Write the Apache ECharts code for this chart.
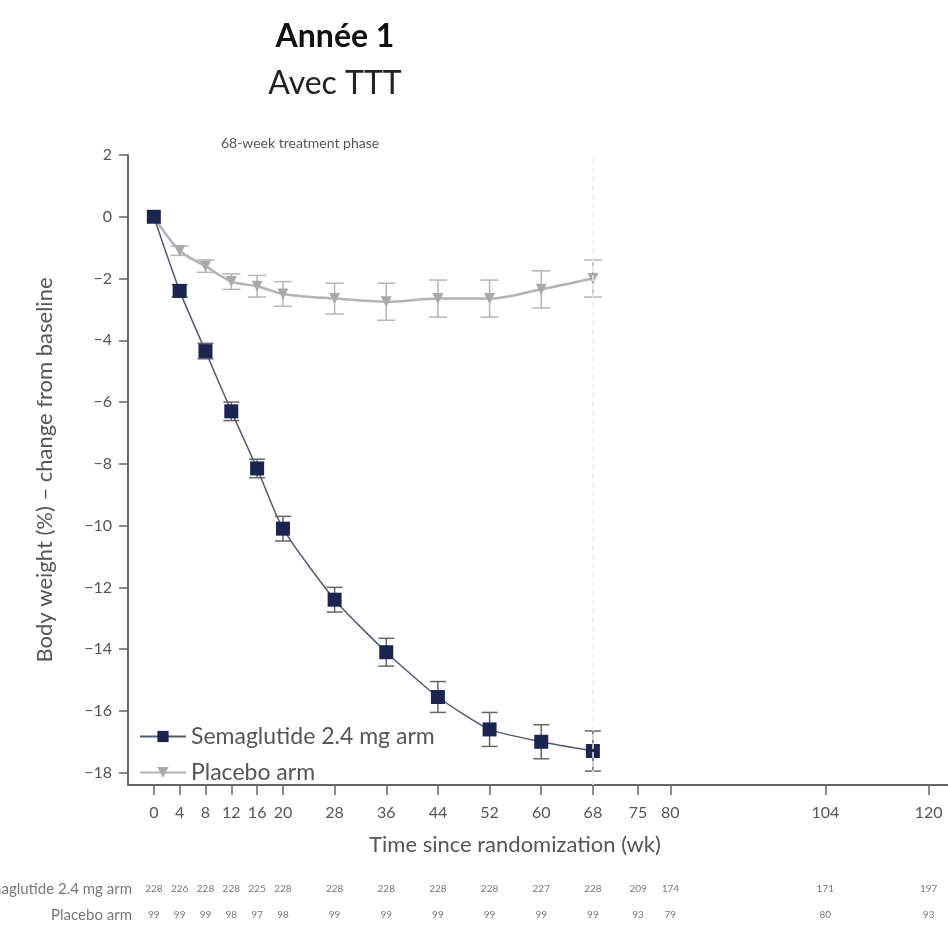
<!DOCTYPE html>
<html>
<head>
<meta charset="utf-8">
<script src="https://cdn.jsdelivr.net/npm/echarts@6/dist/echarts.min.js"></script>
<style>
  html, body { margin: 0; padding: 0; background: #fff; }
  #chart { width: 948px; height: 931px; }
</style>
</head>
<body>
<div id="chart"></div>
<script>
// weeks with measured points
const weeks = [0, 4, 8, 12, 16, 20, 28, 36, 44, 52, 60, 68];
const semaMean = [0, -2.4, -4.35, -6.3, -8.15, -10.1, -12.4, -14.1, -15.55, -16.6, -17.0, -17.3];
const semaErr = [0, 0.2, 0.25, 0.3, 0.3, 0.4, 0.4, 0.45, 0.5, 0.55, 0.55, 0.65];
const placeboMean = [0, -1.1, -1.6, -2.1, -2.25, -2.5, -2.65, -2.75, -2.65, -2.65, -2.35, -2.0];
const placeboErr = [0, 0.15, 0.2, 0.25, 0.35, 0.4, 0.5, 0.6, 0.6, 0.6, 0.6, 0.6];

// axis ticks
const xTicks = [0, 4, 8, 12, 16, 20, 28, 36, 44, 52, 60, 68, 75, 80, 104, 120];
const yTicks = [2, 0, -2, -4, -6, -8, -10, -12, -14, -16, -18];

// numbers at risk (same weeks as xTicks)
const atRiskSema = [228, 226, 228, 228, 225, 228, 228, 228, 228, 228, 227, 228, 209, 174, 171, 197];
const atRiskPlacebo = [99, 99, 99, 98, 97, 98, 99, 99, 99, 99, 99, 99, 93, 79, 80, 93];

const FONT = 'Lato';
const semaColor = '#1c2550';
const placeboColor = '#a9a9a9';

function pairs(ys) { return weeks.map((w, i) => [w, ys[i]]); }
function bars(ys, err) {
  return weeks.map((w, i) => [w, ys[i] - err[i], ys[i] + err[i]]).filter((d, i) => err[i] > 0);
}
function errorBars(color, capW) {
  return function (params, api) {
    const x = api.value(0);
    const lo = api.coord([x, api.value(1)]);
    const hi = api.coord([x, api.value(2)]);
    const style = { stroke: color, lineWidth: 1.5 };
    return {
      type: 'group',
      children: [
        { type: 'line', shape: { x1: lo[0], y1: lo[1], x2: hi[0], y2: hi[1] }, style: style },
        { type: 'line', shape: { x1: lo[0] - capW, y1: lo[1], x2: lo[0] + capW, y2: lo[1] }, style: style },
        { type: 'line', shape: { x1: hi[0] - capW, y1: hi[1], x2: hi[0] + capW, y2: hi[1] }, style: style }
      ]
    };
  };
}
function countAxis(gridIndex, counts) {
  return {
    type: 'value', gridIndex: gridIndex, min: -4, max: 123,
    axisLine: { show: false }, axisTick: { show: false }, splitLine: { show: false },
    axisLabel: {
      customValues: xTicks, margin: 3, fontSize: 10, color: '#777', fontFamily: FONT,
      formatter: v => String(counts[xTicks.indexOf(v)])
    }
  };
}

let chart = echarts.init(document.getElementById('chart'));
let option = {
  backgroundColor: '#fff',
  animation: false,
  textStyle: { fontFamily: FONT },
  title: [
    { text: 'Année 1', left: 330, top: 16, textAlign: 'center',
      textStyle: { fontSize: 32, fontWeight: 'bold', color: '#111', fontFamily: FONT } },
    { text: 'Avec TTT', left: 330, top: 63, textAlign: 'center',
      textStyle: { fontSize: 32, fontWeight: 'normal', color: '#222', fontFamily: FONT } },
    { text: '68-week treatment phase', left: 295, top: 131, textAlign: 'center',
      textStyle: { fontSize: 14, fontWeight: 'normal', color: '#555', fontFamily: FONT } }
  ],
  legend: {
    data: ['Semaglutide 2.4 mg arm', 'Placebo arm'],
    orient: 'vertical', left: 134, top: 720, itemGap: 13,
    itemWidth: 46, itemHeight: 14,
    textStyle: { fontSize: 23, color: '#555', fontFamily: FONT }
  },
  grid: [
    { left: 128, right: 0, top: 155, bottom: 146 },
    { left: 128, right: 0, top: 880, height: 1 },
    { left: 128, right: 0, top: 906, height: 1 }
  ],
  xAxis: [
    {
      type: 'value', min: -4, max: 123,
      name: 'Time since randomization (wk)', nameLocation: 'middle', nameGap: 49,
      nameTextStyle: { fontSize: 22, color: '#555', padding: [0, 46, 0, 0], fontFamily: FONT },
      axisLine: { onZero: false, lineStyle: { color: '#666', width: 2 } },
      axisTick: { customValues: xTicks, length: 10, lineStyle: { color: '#666', width: 1.5 } },
      axisLabel: { customValues: xTicks, margin: 20, fontSize: 16, color: '#555', fontFamily: FONT },
      splitLine: { show: false }
    },
    countAxis(1, atRiskSema),
    countAxis(2, atRiskPlacebo)
  ],
  yAxis: [
    {
      type: 'value', min: -18.4, max: 2,
      name: 'Body weight (%) \u2013 change from baseline', nameLocation: 'middle', nameGap: 72,
      nameRotate: 90,
      nameTextStyle: { fontSize: 22, color: '#555', fontFamily: FONT },
      axisLine: { show: true, onZero: false, lineStyle: { color: '#666', width: 2 } },
      axisTick: { customValues: yTicks, length: 9, lineStyle: { color: '#666', width: 1.5 } },
      axisLabel: { customValues: yTicks, margin: 16, fontSize: 16, color: '#555', fontFamily: FONT,
        formatter: v => String(v).replace('-', '\u2212') },
      splitLine: { show: false }
    },
    { type: 'value', gridIndex: 1, show: false },
    { type: 'value', gridIndex: 2, show: false }
  ],
  graphic: [
    { type: 'text', right: 948 - 132, top: 882,
      style: { text: 'Semaglutide 2.4 mg arm', fontSize: 15, fill: '#777', fontFamily: FONT } },
    { type: 'text', right: 948 - 132, top: 908,
      style: { text: 'Placebo arm', fontSize: 15, fill: '#777', fontFamily: FONT } }
  ],
  series: [
    {
      name: 'placebo-err', type: 'custom', z: 1,
      renderItem: errorBars('#b5b5b5', 9),
      data: bars(placeboMean, placeboErr)
    },
    {
      name: 'Placebo arm', type: 'line', z: 2,
      data: pairs(placeboMean), smooth: 0.3,
      symbol: 'triangle', symbolRotate: 180, symbolSize: 11,
      itemStyle: { color: placeboColor },
      lineStyle: { color: '#b3b3b3', width: 2.5 }
    },
    {
      name: 'sema-err', type: 'custom', z: 3,
      renderItem: errorBars('#666', 8),
      data: bars(semaMean, semaErr)
    },
    {
      name: 'Semaglutide 2.4 mg arm', type: 'line', z: 4,
      data: pairs(semaMean), smooth: 0.2,
      symbol: 'rect', symbolSize: 14,
      itemStyle: { color: semaColor },
      lineStyle: { color: '#555a70', width: 1.5 },
      markLine: {
        silent: true, symbol: 'none', label: { show: false },
        lineStyle: { color: '#eeeeee', type: 'dashed', width: 1.5 },
        data: [{ xAxis: 68 }]
      }
    }
  ]
};
chart.setOption(option);
window.addEventListener('resize', function () {
  chart.resize();
});
</script>
</body>
</html>
